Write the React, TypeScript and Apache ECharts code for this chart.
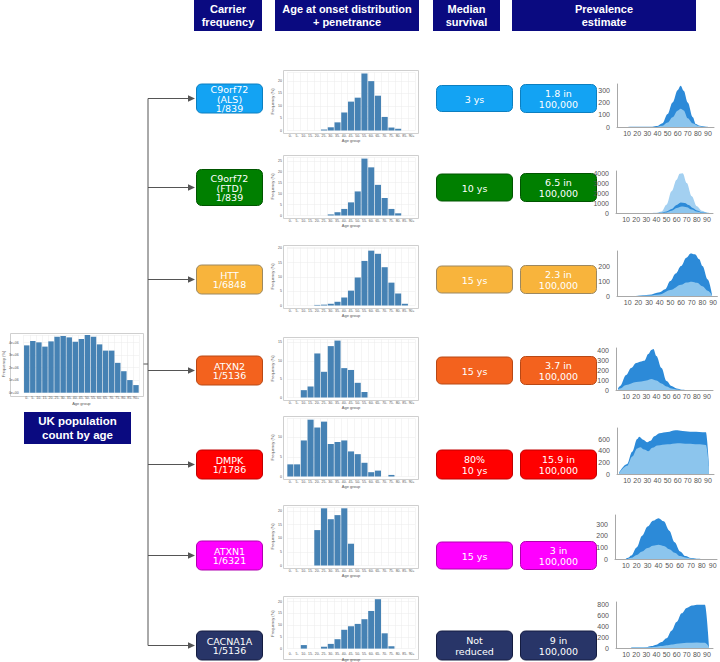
import React, { useEffect, useRef } from 'react';
import * as echarts from 'echarts';

// ---------- DATA ----------
const headers = ['Carrier\nfrequency', 'Age at onset distribution\n+ penetrance', 'Median\nsurvival', 'Prevalence\nestimate'];
const genes = ['C9orf72\n(ALS)', 'C9orf72\n(FTD)', 'HTT', 'ATXN2', 'DMPK', 'ATXN1', 'CACNA1A'];
const carrierFrequency = ['1/839', '1/839', '1/6848', '1/5136', '1/1786', '1/6321', '1/5136'];
const medianSurvival = ['3 ys', '10 ys', '15 ys', '15 ys', '80%\n10 ys', '15 ys', 'Not\nreduced'];
const prevalenceEstimate = ['1.8 in\n100,000', '6.5 in\n100,000', '2.3 in\n100,000', '3.7 in\n100,000', '15.9 in\n100,000', '3 in\n100,000', '9 in\n100,000'];
const ukLabel = 'UK population\ncount by age';

const ageGroups = ['0-', '5-', '10-', '15-', '20-', '25-', '30-', '35-', '40-', '45-', '50-', '55-', '60-', '65-', '70-', '75-', '80-', '85-', '90+'];

const ukPopulation = [3790000, 4140000, 4030000, 3690000, 4110000, 4480000, 4540000, 4430000, 4080000, 4300000, 4620000, 4480000, 3870000, 3370000, 3370000, 2390000, 1720000, 1010000, 610000];

// onset distribution, frequency (%)
const onsetC9ALS = [0, 0, 0, 0, 0, 0.4, 1.3, 3.3, 7.3, 11.7, 13.3, 23.1, 20, 14.1, 5.5, 1.2, 0.7, 0, 0];
const onsetC9FTD = [0, 0, 0, 0, 0, 0, 0.5, 1.5, 3, 6, 11, 26, 22, 14, 8, 3, 1, 0, 0];
const onsetHTT = [0, 0, 0, 0, 0.2, 0.3, 0.6, 1.3, 2.8, 5.2, 9.8, 15.6, 19.2, 18.1, 13.4, 8, 4.2, 0.6, 0];
const onsetATXN2 = [0, 0, 2, 3, 12, 7, 14, 15.5, 8, 7.5, 4, 1.5, 0, 0, 0, 0, 0, 0, 0];
const onsetDMPK = [3.1, 3.1, 9.2, 14.5, 12.5, 14, 8.3, 8.8, 9.2, 6.4, 5.7, 3.5, 1.1, 1.5, 0, 0.4, 0, 0, 0];
const onsetATXN1 = [0, 0, 0, 0, 13, 21, 17, 18.5, 21, 8, 0, 0, 0, 0, 0, 0, 0, 0, 0];
const onsetCACNA1A = [0, 0, 1.5, 0, 0, 0.8, 2, 4, 8, 9.5, 10.5, 12.5, 16, 21, 6.5, 1, 0, 0, 0];

// prevalence by age [age, count]
const prevALSHigh = [[0, 0], [35, 2], [40, 8], [45, 30], [50, 105], [55, 200], [60, 300], [63, 335], [66, 295], [70, 200], [75, 80], [78, 25], [82, 10], [88, 3], [92, 0]];
const prevALSLow = [[40, 2], [45, 10], [50, 36], [55, 80], [60, 133], [63, 148], [66, 135], [70, 72], [75, 30], [80, 10], [85, 3], [90, 0]];
const prevFTDHigh = [[35, 0], [40, 20], [45, 150], [50, 830], [55, 2170], [60, 3330], [63, 3930], [66, 3980], [70, 3000], [75, 1670], [80, 670], [85, 230], [90, 50], [93, 0]];
const prevFTDMid = [[40, 5], [45, 30], [50, 150], [55, 400], [60, 800], [64, 1050], [68, 1000], [72, 800], [76, 500], [80, 250], [85, 80], [90, 10]];
const prevFTDLow = [[45, 10], [50, 60], [55, 220], [60, 500], [65, 650], [70, 580], [75, 350], [80, 150], [85, 40], [90, 5]];
const prevHTTHigh = [[0, 0], [15, 0], [20, 2], [30, 8], [40, 25], [45, 45], [50, 100], [55, 150], [60, 200], [65, 255], [69, 283], [73, 278], [77, 245], [80, 200], [85, 110], [89, 10]];
const prevHTTLow = [[20, 1], [30, 3], [40, 10], [50, 40], [60, 75], [65, 90], [70, 95], [75, 88], [80, 65], [85, 35], [89, 5]];
const prevATXN2High = [[2, 15], [4, 40], [10, 150], [15, 220], [20, 270], [25, 285], [28, 292], [32, 360], [35, 400], [37, 410], [40, 340], [45, 220], [50, 90], [55, 40], [60, 15], [65, 3], [70, 0]];
const prevATXN2Low = [[2, 8], [4, 15], [10, 50], [20, 80], [25, 85], [30, 95], [35, 110], [40, 95], [45, 65], [50, 35], [55, 15], [60, 5], [65, 0]];
const prevDMPKHigh = [[2, 20], [10, 170], [15, 380], [20, 600], [22, 640], [26, 590], [30, 545], [33, 570], [37, 650], [42, 700], [50, 720], [58, 750], [65, 740], [75, 725], [88, 715], [91, 150]];
const prevDMPKLow = [[2, 15], [10, 140], [15, 300], [20, 440], [23, 460], [27, 420], [31, 390], [35, 450], [40, 490], [50, 510], [60, 530], [70, 520], [80, 510], [88, 500], [91, 130]];
const prevATXN1High = [[10, 2], [12, 10], [15, 30], [20, 100], [25, 200], [30, 280], [35, 330], [40, 352], [45, 325], [50, 245], [55, 145], [60, 65], [65, 25], [70, 8], [75, 2], [80, 0]];
const prevATXN1Low = [[12, 3], [15, 10], [20, 35], [25, 65], [30, 95], [35, 115], [40, 122], [45, 112], [50, 85], [55, 55], [60, 25], [65, 12], [70, 4], [75, 0]];
const prevCACNA1AHigh = [[15, 5], [20, 8], [25, 10], [30, 15], [35, 35], [40, 60], [45, 110], [50, 180], [55, 320], [60, 480], [65, 640], [70, 740], [75, 785], [80, 800], [88, 800], [92, 40]];
const prevCACNA1ALow = [[15, 10], [20, 12], [30, 12], [35, 15], [40, 22], [45, 35], [50, 50], [55, 65], [60, 80], [65, 90], [70, 95], [80, 100], [88, 95], [92, 20]];

// ---------- LAYOUT / STYLE ----------
const FONT = 'Liberation Sans';
const BOX_FONT = 'DejaVu Sans';
const NAVY = '#0a0a80';
const DARK = '#2c8ad8';
const LIGHT = '#8cc5ed';
const LIGHTER = '#a3d0f1';
const rowCenters = [98.5, 187.5, 279.5, 370.5, 464.5, 555.5, 645.5];
const panelTops = [70, 155, 245, 337, 416, 505, 596];
const PANEL_H = 63;
const boxFill = ['#13a3f3', '#007f00', '#f8b43c', '#f3621e', '#ff0000', '#ff00ff', '#283568'];
const boxStroke = ['#0c7fc0', '#005500', '#9c8860', '#b84815', '#c00000', '#b000b0', '#141c40'];

function buildOption() {
  const grid: any[] = [];
  const xAxis: any[] = [];
  const yAxis: any[] = [];
  const series: any[] = [];
  const graphic: any[] = [];
  const tiny = { fontSize: 3.5, color: '#555', fontFamily: FONT };

  function histogram(data: number[], left: number, top: number, width: number, height: number, yMax: number, yInterval: number, fmt: (v: number) => string) {
    const i = grid.length;
    grid.push({ left, top, width, height, show: false });
    xAxis.push({
      type: 'category', gridIndex: i, data: ageGroups,
      axisLine: { show: false }, axisTick: { show: false },
      axisLabel: { ...tiny, interval: 0, margin: 3.5 },
      splitLine: { show: true, lineStyle: { color: '#ebebeb', width: 0.5 } },
      name: 'Age group', nameLocation: 'middle', nameGap: 7,
      nameTextStyle: { ...tiny, fontSize: 4 },
    });
    yAxis.push({
      type: 'value', gridIndex: i, min: 0, max: yMax, interval: yInterval,
      axisLine: { show: false }, axisTick: { show: false },
      axisLabel: { ...tiny, margin: 5, formatter: (v: number) => (Math.abs(v / yInterval - Math.round(v / yInterval)) < 1e-6 ? fmt(v) : '') },
      splitLine: { show: true, lineStyle: { color: '#ebebeb', width: 0.5 } },
      name: 'Frequency (%)', nameLocation: 'middle', nameGap: 10,
      nameTextStyle: { ...tiny, fontSize: 4 },
    });
    series.push({
      type: 'bar', xAxisIndex: i, yAxisIndex: i, data,
      itemStyle: { color: '#4682b4' }, barCategoryGap: '10%', silent: true,
    });
  }

  function prevalence(layers: { data: number[][]; color: string }[], left: number, top: number, width: number, height: number, xMax: number, yMax: number, yInterval: number) {
    const i = grid.length;
    grid.push({ left, top, width, height, show: false });
    xAxis.push({
      type: 'value', gridIndex: i, min: 0, max: xMax, interval: 10,
      axisLine: { show: true, lineStyle: { color: '#a8a8a8' } }, axisTick: { show: false },
      splitLine: { show: false },
      axisLabel: { fontSize: 7, color: '#555', fontFamily: FONT, margin: 2.5, showMaxLabel: false, formatter: (v: number) => (v >= 10 && v <= 90 ? String(v) : '') },
    });
    yAxis.push({
      type: 'value', gridIndex: i, min: 0, max: yMax, interval: yInterval, offset: 4,
      axisLine: { show: true, lineStyle: { color: '#a8a8a8' } }, axisTick: { show: false },
      splitLine: { show: false },
      axisLabel: { fontSize: 7, color: '#555', fontFamily: FONT, margin: 3, showMaxLabel: false, formatter: (v: number) => String(v) },
    });
    layers.forEach((l) => {
      series.push({
        type: 'line', xAxisIndex: i, yAxisIndex: i, data: l.data,
        smooth: 0.35, smoothMonotone: 'x', symbol: 'none', silent: true,
        lineStyle: { width: 0 }, areaStyle: { color: l.color, opacity: 1 },
      });
    });
  }

  // UK population panel
  graphic.push({ type: 'rect', shape: { x: 10.5, y: 333.5, width: 133, height: 63 }, style: { fill: '#fff', stroke: '#cfcfcf', lineWidth: 1 }, z: -1 });
  histogram(ukPopulation, 16, 335, 123, 57.7, 4620000, 1000000, (v) => (v === 0 ? '0e+00' : `${v / 1e6}e+06`));

  // onset histograms
  const onsets = [onsetC9ALS, onsetC9FTD, onsetHTT, onsetATXN2, onsetDMPK, onsetATXN1, onsetCACNA1A];
  const histMax = [23.5, 26.5, 20.3, 15.8, 14.8, 21.3, 21.3];
  onsets.forEach((d, r) => {
    graphic.push({ type: 'rect', shape: { x: 283.5, y: panelTops[r] + 0.5, width: 135, height: PANEL_H }, style: { fill: '#fff', stroke: '#cfcfcf', lineWidth: 1 }, z: -1 });
    histogram(d, 287, panelTops[r] + 2.5, 128, PANEL_H - 5, histMax[r], 5, (v) => String(v));
  });

  // prevalence area charts
  prevalence([{ data: prevALSHigh, color: DARK }, { data: prevALSLow, color: LIGHT }], 617, 84, 97, 43, 96, 350, 100);
  prevalence([{ data: prevFTDHigh, color: LIGHTER }, { data: prevFTDMid, color: DARK }, { data: prevFTDLow, color: LIGHT }], 616, 171, 97, 42, 96, 4200, 1000);
  prevalence([{ data: prevHTTHigh, color: DARK }, { data: prevHTTLow, color: LIGHT }], 617, 251, 102, 45, 94, 300, 100);
  prevalence([{ data: prevATXN2High, color: DARK }, { data: prevATXN2Low, color: LIGHT }], 616, 348, 97, 42, 96, 420, 100);
  prevalence([{ data: prevDMPKHigh, color: DARK }, { data: prevDMPKLow, color: LIGHT }], 617, 428, 97, 46, 96, 790, 200);
  prevalence([{ data: prevATXN1High, color: DARK }, { data: prevATXN1Low, color: LIGHT }], 615, 515, 102, 44, 94, 380, 100);
  prevalence([{ data: prevCACNA1AHigh, color: DARK }, { data: prevCACNA1ALow, color: LIGHT }], 616, 602, 97, 46, 96, 850, 200);

  // headers
  const headerBoxes = [[194, 68], [275, 144], [433, 67], [512, 184]];
  headers.forEach((h, k) => {
    const [x, w] = headerBoxes[k];
    graphic.push({ type: 'rect', shape: { x, y: 0, width: w, height: 31 }, style: { fill: NAVY } });
    graphic.push({ type: 'text', style: { text: h, x: x + w / 2, y: 15.5, fill: '#fff', fontSize: 11, fontWeight: 'bold', fontFamily: FONT, align: 'center', verticalAlign: 'middle', lineHeight: 12.5 } });
  });

  // UK label
  graphic.push({ type: 'rect', shape: { x: 24, y: 412, width: 107, height: 32 }, style: { fill: NAVY } });
  graphic.push({ type: 'text', style: { text: ukLabel, x: 77.5, y: 428, fill: '#fff', fontSize: 11.5, fontWeight: 'bold', fontFamily: FONT, align: 'center', verticalAlign: 'middle', lineHeight: 13.5 } });

  // connectors
  const ARROW = '#555';
  graphic.push({ type: 'line', shape: { x1: 143.5, y1: 364, x2: 148, y2: 364 }, style: { stroke: ARROW, lineWidth: 1 } });
  graphic.push({ type: 'line', shape: { x1: 148, y1: rowCenters[0], x2: 148, y2: rowCenters[6] }, style: { stroke: ARROW, lineWidth: 1 } });

  const carrierH = [29, 36, 29, 29, 29, 29, 29];
  const survH = [26, 27, 27, 27, 29, 27, 29];
  const prevH = [28, 28, 28, 28, 29, 28, 29];
  genes.forEach((g, r) => {
    const cy = rowCenters[r];
    graphic.push({ type: 'line', shape: { x1: 148, y1: cy, x2: 190, y2: cy }, style: { stroke: ARROW, lineWidth: 1 } });
    graphic.push({ type: 'polygon', shape: { points: [[195, cy], [188, cy - 3.2], [188, cy + 3.2]] }, style: { fill: ARROW } });

    const boxes = [
      { x: 196, w: 66, h: carrierH[r], text: `${g}\n${carrierFrequency[r]}`, lh: 9.6 },
      { x: 436, w: 76, h: survH[r], text: medianSurvival[r], lh: 11 },
      { x: 520, w: 76, h: prevH[r], text: prevalenceEstimate[r], lh: 11.5 },
    ];
    boxes.forEach((b) => {
      graphic.push({ type: 'rect', shape: { x: b.x + 0.5, y: cy - b.h / 2, width: b.w, height: b.h, r: 5 }, style: { fill: boxFill[r], stroke: boxStroke[r], lineWidth: 1 } });
      graphic.push({ type: 'text', style: { text: b.text, x: b.x + b.w / 2 + 0.5, y: cy + 0.5, fill: '#fff', fontSize: 9.5, fontFamily: BOX_FONT, align: 'center', verticalAlign: 'middle', lineHeight: b.lh } });
    });
  });

  return { animation: false, backgroundColor: '#fff', grid, xAxis, yAxis, series, graphic };
}

export default function App() {
  const ref = useRef<HTMLDivElement>(null);
  useEffect(() => {
    const chart = echarts.init(ref.current!, null, { renderer: 'svg' });
    chart.setOption(buildOption() as any);
    return () => chart.dispose();
  }, []);
  return <div ref={ref} style={{ position: 'absolute', left: 0, top: 0, width: 720, height: 662, background: '#fff' }} />;
}
